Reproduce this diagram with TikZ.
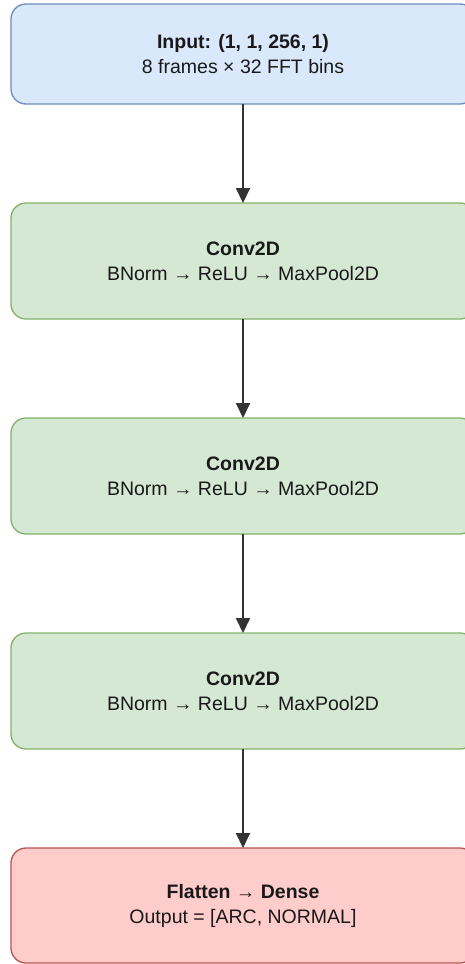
\documentclass[tikz,border=0pt]{standalone}
\usepackage{fontspec}
\setmainfont{Liberation Sans}
\usetikzlibrary{positioning,
  arrows.meta
}
\tikzset{>={Triangle[length=15pt,width=14pt]}}

\definecolor{inFill}{HTML}{DAE8FC}
\definecolor{inLine}{HTML}{6C8EBF}
\definecolor{convFill}{HTML}{D5E8D4}
\definecolor{convLine}{HTML}{82B366}
\definecolor{outFill}{HTML}{FFCCCC}
\definecolor{outLine}{HTML}{B85450}
\definecolor{linkGray}{HTML}{333333}

\begin{document}
\begin{tikzpicture}[x=1pt,y=1pt,
  layer/.style={draw,rounded corners=15pt,line width=1.3pt,minimum width=464pt,
    align=center,inner sep=0pt,outer sep=0pt,text=black!90,font=\fontsize{19.5}{25}\selectfont},
  inbox/.style={layer,fill=inFill,draw=inLine,minimum height=100pt},
  convbox/.style={layer,fill=convFill,draw=convLine,minimum height=116pt},
  outbox/.style={layer,fill=outFill,draw=outLine,minimum height=115pt},
  link/.style={->,line width=2pt,draw=linkGray,fill=linkGray},
  node distance=99pt]
  \useasboundingbox (0,0) rectangle (465,-964);

  % Layers
  \node[inbox] (input) at (243,-54) {\textbf{Input: (1, 1, 256, 1)}\\8 frames × 32 FFT bins};
  \node[convbox,below=of input] (convA) {\textbf{Conv2D}\\BNorm → ReLU → MaxPool2D};
  \node[convbox,below=of convA] (convB) {\textbf{Conv2D}\\BNorm → ReLU → MaxPool2D};
  \node[convbox,below=of convB] (convC) {\textbf{Conv2D}\\BNorm → ReLU → MaxPool2D};
  \node[outbox,below=of convC] (dense) {\textbf{Flatten → Dense}\\Output = [ARC, NORMAL]};

  % Links
  \draw[link] (input) -- (convA);
  \draw[link] (convA) -- (convB);
  \draw[link] (convB) -- (convC);
  \draw[link] (convC) -- (dense);
\end{tikzpicture}
\end{document}
